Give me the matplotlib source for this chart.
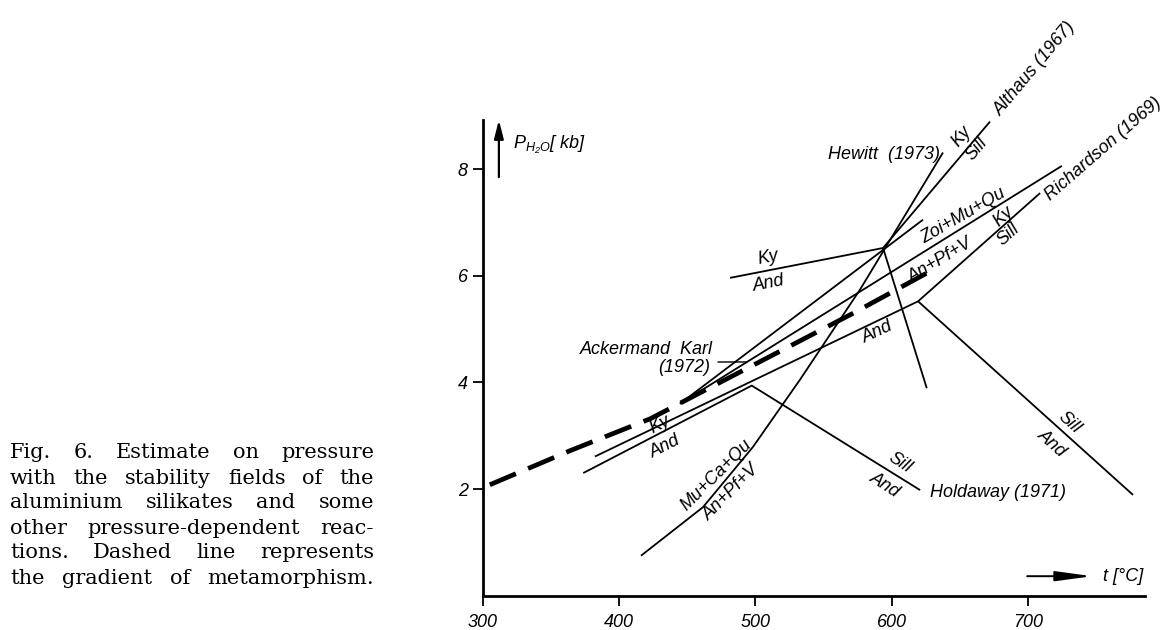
import matplotlib
matplotlib.use('Agg')
import matplotlib.pyplot as plt
import numpy as np

# ---------------- data (temperature in °C, pressure in kb) ----------------
grad_T = [305, 364, 423, 462, 572, 633]
grad_P = [2.08, 2.72, 3.32, 3.84, 5.30, 6.15]

hold_T = [373.6, 497.3, 620.9]
hold_P = [2.30, 3.94, 1.98]

rich_kyand_T = [382.2, 619.4]
rich_kyand_P = [2.61, 5.52]
rich_silland_T = [619.4, 777.2]
rich_silland_P = [5.52, 1.89]
rich_kysill_T = [619.4, 709.0]
rich_kysill_P = [5.52, 7.55]

alt_kyand_T = [481.4, 593.7]
alt_kyand_P = [5.96, 6.52]
alt_andsill_T = [593.7, 625.8]
alt_andsill_P = [6.52, 3.89]
alt_kysill_T = [593.7, 672.2]
alt_kysill_P = [6.52, 8.89]

hew_T = [416.0, 461.5, 498.2, 532.7, 576.8, 637.7]
hew_P = [0.75, 1.66, 2.79, 4.05, 5.74, 8.31]

ak_zoi_T = [444.6, 725.0]
ak_zoi_P = [3.60, 8.06]
ak_steep_T = [444.6, 623.0]
ak_steep_P = [3.60, 7.05]

x_ticks = [300, 400, 500, 600, 700]
x_tick_labels = ['300', '400', '500', '600', '700']
y_ticks = [2, 4, 6, 8]
y_tick_labels = ['2', '4', '6', '8']

caption_lines = [
    "Fig. 6. Estimate on pressure",
    "with the stability fields of the",
    "aluminium silikates and some",
    "other pressure-dependent reac-",
    "tions. Dashed line represents",
    "the gradient of metamorphism.",
]

# ---------------- styling ----------------
plt.rcParams['font.family'] = ['Liberation Sans', 'DejaVu Sans']
plt.rcParams['mathtext.fontset'] = 'custom'
plt.rcParams['mathtext.it'] = 'Liberation Sans:italic'
plt.rcParams['mathtext.rm'] = 'Liberation Sans:italic'

W, H = 1168, 630
fig = plt.figure(figsize=(W / 100, H / 100), dpi=100)
fig.patch.set_facecolor('white')
ax = fig.add_axes([483 / W, (H - 595.7) / H, 662 / W, 475.7 / H])
ax.set_xlim(300, 786)
ax.set_ylim(0, 8.92)
ax.patch.set_alpha(0)
for s in ['top', 'right']:
    ax.spines[s].set_visible(False)
for s in ['left', 'bottom']:
    ax.spines[s].set_linewidth(2.0)

FS = 13
ax.set_xticks(x_ticks)
ax.set_xticklabels(x_tick_labels, fontstyle='italic', fontsize=FS)
ax.set_yticks(y_ticks)
ax.set_yticklabels(y_tick_labels, fontstyle='italic', fontsize=FS)
ax.tick_params(axis='x', direction='out', length=7, width=1.3, pad=6)
ax.tick_params(axis='y', direction='out', length=7, width=1.3, pad=4)

LW = 1.3
kw = dict(color='black', lw=LW, clip_on=False, solid_capstyle='butt')
ax.plot(hold_T, hold_P, **kw)
ax.plot(rich_kyand_T, rich_kyand_P, **kw)
ax.plot(rich_silland_T, rich_silland_P, **kw)
ax.plot(rich_kysill_T, rich_kysill_P, **kw)
ax.plot(alt_kyand_T, alt_kyand_P, **kw)
ax.plot(alt_andsill_T, alt_andsill_P, **kw)
ax.plot(alt_kysill_T, alt_kysill_P, **kw)
ax.plot(hew_T, hew_P, **kw)
ax.plot(ak_zoi_T, ak_zoi_P, **kw)
ax.plot(ak_steep_T, ak_steep_P, **kw)
ax.plot(grad_T, grad_P, color='black', lw=3.4, linestyle=(0, (6, 2.8)),
        dash_capstyle='butt', clip_on=False)


def lab(T, P, s, rot=0, ha='center', va='center', fs=FS):
    ax.text(T, P, s, rotation=rot, ha=ha, va=va, fontsize=fs,
            fontstyle='italic', rotation_mode='anchor')


# study labels
lab(635.5, 8.27, 'Hewitt  (1973)', ha='right')
lab(677.4, 9.05, 'Althaus (1967)', rot=50, ha='left')
lab(714.1, 7.46, 'Richardson (1969)', rot=41, ha='left')
lab(628.2, 1.93, 'Holdaway (1971)', ha='left')
lab(468.9, 4.61, 'Ackermand  Karl', ha='right')
lab(466.7, 4.27, '(1972)', ha='right')
T_lead = 493.8
ax.annotate('', xy=(T_lead, np.interp(T_lead, ak_zoi_T, ak_zoi_P)),
            xytext=(472.5, np.interp(T_lead, ak_zoi_T, ak_zoi_P)),
            arrowprops=dict(arrowstyle='-', lw=1.0, color='black',
                            shrinkA=0, shrinkB=0))

# phase labels
lab(651.7, 8.61, 'Ky', rot=50)
lab(662.7, 8.38, 'Sill', rot=50)
lab(682.5, 7.11, 'Ky', rot=42)
lab(685.5, 6.77, 'Sill', rot=42)
lab(652.4, 7.12, 'Zoi+Mu+Qu', rot=30)
lab(635.5, 6.28, 'An+Pf+V', rot=31)
lab(509.3, 6.33, 'Ky', rot=11)
lab(510.0, 5.86, 'And', rot=11)
lab(589.3, 4.94, 'And', rot=25)
lab(430.0, 3.20, 'Ky', rot=27)
lab(433.6, 2.79, 'And', rot=27)
lab(606.2, 2.49, 'Sill', rot=-33)
lab(595.2, 2.08, 'And', rot=-33)
lab(730.2, 3.24, 'Sill', rot=-42)
lab(717.8, 2.86, 'And', rot=-42)
lab(471.0, 2.26, 'Mu+Ca+Qu', rot=45)
lab(482.0, 1.93, 'An+Pf+V', rot=45)

# axis arrows and titles
ax.annotate('', xy=(0.024, 1.0), xytext=(0.024, 0.88), xycoords='axes fraction',
            arrowprops=dict(arrowstyle='-|>,head_length=1.1,head_width=0.28',
                            lw=1.6, color='black', shrinkA=0, shrinkB=0))
ax.text(0.045, 0.9475, r'$P_{H_2O}$[ kb]', transform=ax.transAxes,
        ha='left', va='center', fontsize=FS, fontstyle='italic')
ax.annotate('', xy=(0.92, 0.041), xytext=(0.822, 0.041), xycoords='axes fraction',
            arrowprops=dict(arrowstyle='-|>,head_length=2.2,head_width=0.3',
                            lw=1.4, color='black', shrinkA=0, shrinkB=0))
ax.text(0.9366, 0.041, 't [°C]', transform=ax.transAxes,
        ha='left', va='center', fontsize=FS, fontstyle='italic')

# justified caption
renderer = fig.canvas.get_renderer()
x_left, x_right = 10, 374
cap_fs = 15
for i, line in enumerate(caption_lines):
    y = H - (453 + 25 * i)
    words = line.split()
    tx = [fig.text(0, y / H, w, fontsize=cap_fs, family='DejaVu Serif',
                   ha='left', va='center') for w in words]
    widths = [t.get_window_extent(renderer).width for t in tx]
    gap = (x_right - x_left - sum(widths)) / max(len(words) - 1, 1)
    x = x_left
    for t, wd in zip(tx, widths):
        t.set_x(x / W)
        x += wd + gap

fig.savefig('out.png', dpi=100, facecolor='white')
